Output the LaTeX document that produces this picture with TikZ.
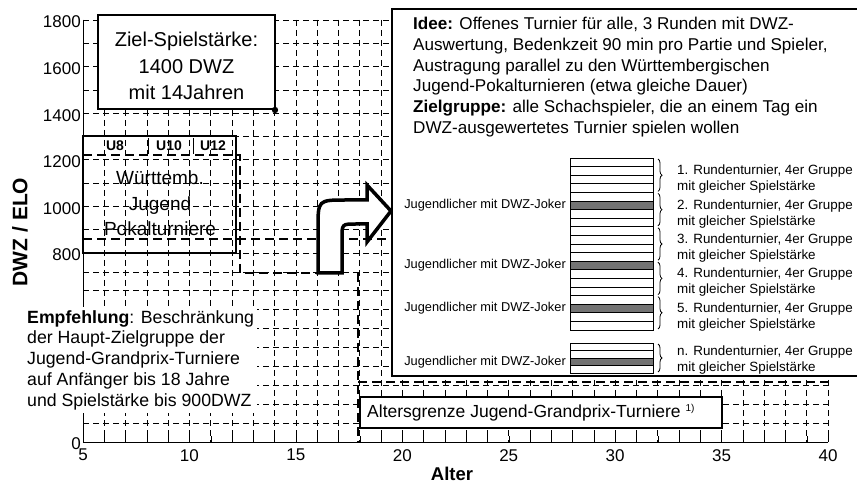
\documentclass[tikz,border=0pt]{standalone}
\usepackage{fontspec}
\setmainfont{Liberation Sans}
\usetikzlibrary{decorations.pathreplacing}
\begin{document}
\begin{tikzpicture}[x=1pt,y=-1pt,
    netz/.style={line width=0.7pt,dash pattern=on 6pt off 4pt},
    grenze/.style={line width=2.6pt,dash pattern=on 9pt off 5pt},
    rand/.style={line width=2pt},
    zeile/.style={line width=0.7pt},
    joker/.style={fill=black!55},
    klammer/.style={line width=0.8pt,decorate,decoration={brace,amplitude=4pt}},
    zahl/.style={font=\fontsize{17}{20}\selectfont},
    klein/.style={font=\fontsize{12.8}{15}\selectfont,inner sep=1pt},
    runde/.style={font=\fontsize{13.4}{16}\selectfont,align=left,inner sep=0pt}]
    \useasboundingbox (0,0) rectangle (857,486);

    % Gitter
    \foreach \k in {0,...,35} {
        \draw[netz] ({83+21.286*\k},20) -- ({83+21.286*\k},442);
        \draw ({83+21.286*\k},442) -- ({83+21.286*\k},436);
    }
    \foreach \j in {0,...,10}
        \draw[netz] (83,{20+23.3*\j}) -- (828,{20+23.3*\j});
    \foreach \j in {1,...,9}
        \draw[netz] (83,{253+18.9*\j}) -- (828,{253+18.9*\j});
    \draw[line width=1pt] (83,20) -- (83,442) -- (828,442);

    \foreach \w/\y in {1800/20,1600/66.6,1400/113.2,1200/159.8,1000/206.4,800/253,0/442}
        \node[zahl,anchor=east,inner sep=1pt] (y\w) at (82,{\y+2}) {\w};
    \foreach \a in {5,10,...,40}
        \node[zahl,anchor=north,inner sep=0pt] (x\a) at ({83+21.286*(\a-5)},449) {\a};
    \node[font=\fontsize{18.5}{22}\selectfont\bfseries,anchor=base,inner sep=0pt] (alter) at (452,480) {Alter};
    \node[font=\fontsize{21}{24}\selectfont\bfseries,rotate=90] (dwz) at (20,232) {DWZ / ELO};

    % Grenzen
    \draw[grenze] (83,155) -- (240,155) -- (240,273) -- (318,273);
    \draw[grenze] (83,239) -- (392,239);
    \draw[grenze] (358,273) -- (358,442);
    \draw[grenze,line width=2pt] (358,382) -- (828,382);

    % Pokalturniere
    \draw[rand] (83,136.5) rectangle (236,253);
    \draw[line width=1pt] (148,138) -- (148,154);
    \draw[line width=1pt] (193,138) -- (193,154);
    \foreach \u/\x in {U8/115,U10/169,U12/213}
        \node[font=\fontsize{14}{16}\selectfont\bfseries,anchor=base,inner sep=0pt] (\u) at (\x,151) {\u};
    \node[font=\fontsize{19}{25.5}\selectfont,align=center,inner sep=0pt] (pokal) at (160,203.5)
        {Württemb.\\Jugend\\Pokalturniere};

    % Pfeil
    \draw[line width=3.5pt,fill=white,line join=miter] (318,273) -- (318,228)
        .. controls (318,200) .. (346,200) -- (367,200) -- (367,185) -- (391,211)
        -- (367,242) -- (367,224) -- (356,224) .. controls (342,224) .. (342,238)
        -- (342,273) -- cycle;

    % Ziel
    \draw[line width=2.6pt,fill=white] (98,15) rectangle (275,109);
    \fill (275,110) circle(3.2);
    \node[font=\fontsize{20}{26.5}\selectfont,align=center,inner sep=0pt] (ziel) at (186.5,66)
        {Ziel-Spielstärke:\\1400 DWZ\\mit 14Jahren};

    % Empfehlung
    \node[font=\fontsize{17.7}{20.85}\selectfont,align=left,fill=white,anchor=north west,
        inner xsep=3pt,inner ysep=3pt] (empf) at (24,307)
        {\textbf{Empfehlung}: Beschränkung\\der Haupt-Zielgruppe der\\Jugend-Grandprix-Turniere\\auf Anfänger bis 18 Jahre\\und Spielstärke bis 900DWZ};

    % Altersgrenze
    \draw[line width=1.3pt,fill=white] (360,397) rectangle (722,428);
    \node[font=\fontsize{17.5}{20}\selectfont,anchor=west,inner sep=0pt] (grenze18) at (367,412.5)
        {Altersgrenze Jugend-Grandprix-Turniere {\fontsize{10}{10}\selectfont\raisebox{6pt}{1)}}};

    % Idee
    \fill[white] (392,9) rectangle (857,376);
    \draw[rand] (857,9) -| (392,376) -- (857,376);
    \node[font=\fontsize{17.1}{20.8}\selectfont,align=left,anchor=north west,inner sep=0pt] (idee) at (413,17)
        {\textbf{Idee:} Offenes Turnier für alle, 3 Runden mit DWZ-\\Auswertung, Bedenkzeit 90 min pro Partie und Spieler,\\Austragung parallel zu den Württembergischen\\Jugend-Pokalturnieren (etwa gleiche Dauer)\\\textbf{Zielgruppe:} alle Schachspieler, die an einem Tag ein\\DWZ-ausgewertetes Turnier spielen wollen};

    % Gruppen
    \foreach \r in {5,12,17} {
        \fill[joker] (570,{158+8.6*\r}) rectangle (653,{158+8.6*(\r+1)});
        \node[klein,anchor=east] (joker\r) at (567,{158+8.6*(\r+0.5)}) {Jugendlicher mit DWZ-Joker};
    }
    \foreach \r in {1,...,19}
        \draw[zeile] (570,{158+8.6*\r}) -- (653,{158+8.6*\r});
    \draw[zeile] (570,158) rectangle (653,330);
    \foreach \g/\t in {0/1,1/2,2/3,3/4,4/5} {
        \draw[klammer] (658,{158+34.4*\g+1}) -- (658,{158+34.4*(\g+1)-1});
        \node[runde,anchor=west] (runde\t) at (677,{158+34.4*(\g+0.5)+4})
            {\t. Rundenturnier, 4er Gruppe\\mit gleicher Spielstärke};
    }

    \fill[joker] (570,358) rectangle (653,365.5);
    \foreach \r in {1,2,3}
        \draw[zeile] (570,{343+7.5*\r}) -- (653,{343+7.5*\r});
    \draw[zeile] (570,343) rectangle (653,373);
    \node[klein,anchor=east] (jokern) at (567,362) {Jugendlicher mit DWZ-Joker};
    \draw[klammer] (658,344) -- (658,372);
    \node[runde,anchor=west] (runden) at (677,360) {n. Rundenturnier, 4er Gruppe\\mit gleicher Spielstärke};
\end{tikzpicture}
\end{document}
